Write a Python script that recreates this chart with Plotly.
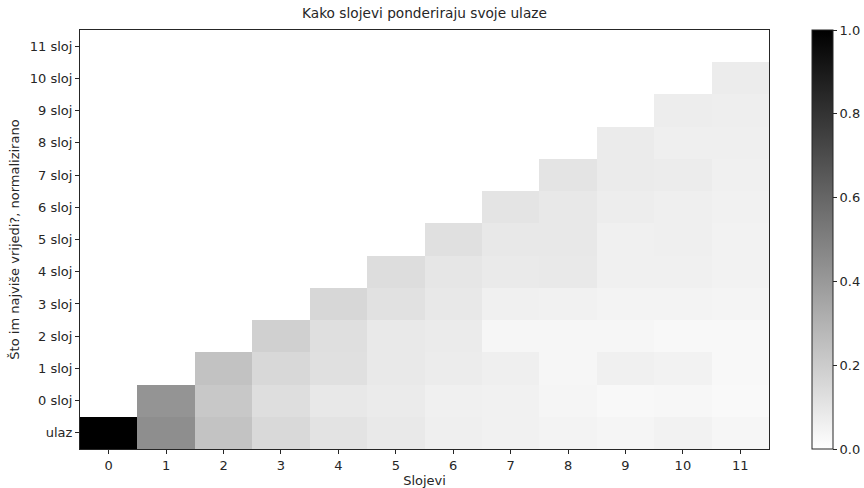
import plotly.graph_objects as go

# Layers (x axis) and the inputs they attend to (y axis)
layers = list(range(12))
inputs = ["ulaz"] + [f"{i} sloj" for i in range(12)]

# Normalized weight each layer gives to its inputs, listed per layer
# from "ulaz" upwards (layer k sees ulaz .. (k-1) sloj)
col_0 = [1.0]
col_1 = [0.443, 0.420]
col_2 = [0.235, 0.216, 0.239]
col_3 = [0.149, 0.129, 0.153, 0.184]
col_4 = [0.110, 0.090, 0.122, 0.125, 0.157]
col_5 = [0.086, 0.078, 0.086, 0.086, 0.118, 0.133]
col_6 = [0.063, 0.059, 0.075, 0.078, 0.090, 0.098, 0.122]
col_7 = [0.055, 0.055, 0.063, 0.035, 0.059, 0.082, 0.090, 0.106]
col_8 = [0.047, 0.039, 0.035, 0.035, 0.055, 0.086, 0.090, 0.090, 0.106]
col_9 = [0.039, 0.027, 0.059, 0.035, 0.047, 0.059, 0.059, 0.071, 0.078, 0.078]
col_10 = [0.051, 0.031, 0.051, 0.027, 0.047, 0.059, 0.063, 0.063, 0.075, 0.063, 0.071]
col_11 = [0.035, 0.024, 0.027, 0.027, 0.043, 0.051, 0.051, 0.055, 0.059, 0.063, 0.067, 0.075]

columns = [col_0, col_1, col_2, col_3, col_4, col_5, col_6,
           col_7, col_8, col_9, col_10, col_11]

# Build the matrix z[row][col]; cells above the diagonal stay empty
z = [[None for _ in layers] for _ in inputs]
for c, vals in enumerate(columns):
    for r, v in enumerate(vals):
        z[r][c] = v

font = "DejaVu Sans"
ink = "#262626"
fs = 13

fig = go.Figure(
    go.Heatmap(
        z=z,
        x=layers,
        y=list(range(len(inputs))),
        zmin=0,
        zmax=1,
        colorscale=[[0, "rgb(255,255,255)"], [1, "rgb(0,0,0)"]],
        hoverongaps=False,
        colorbar=dict(
            x=1.063,
            xanchor="left",
            xpad=0,
            y=0,
            yanchor="bottom",
            len=1,
            lenmode="fraction",
            ypad=0,
            thickness=21,
            outlinewidth=1,
            outlinecolor=ink,
            tickvals=[0, 0.2, 0.4, 0.6, 0.8, 1.0],
            ticktext=["0.0", "0.2", "0.4", "0.6", "0.8", "1.0"],
            ticks="outside",
            ticklen=4,
            tickcolor=ink,
            tickfont=dict(family=font, size=fs, color=ink),
        ),
    )
)

fig.update_layout(
    width=864,
    height=488,
    margin=dict(l=80, r=95, t=30, b=39, autoexpand=False),
    paper_bgcolor="white",
    plot_bgcolor="white",
    font=dict(family=font, size=fs, color=ink),
    title=dict(
        text="Kako slojevi ponderiraju svoje ulaze",
        x=(80 + 769) / 2 / 864,
        xanchor="center",
        y=1 - 13 / 488,
        yanchor="middle",
        font=dict(family=font, size=13.7, color=ink),
    ),
)

fig.update_xaxes(
    range=[-0.5, 11.5],
    tickmode="array",
    tickvals=layers,
    ticktext=[str(l) for l in layers],
    ticks="outside",
    ticklen=4,
    tickcolor=ink,
    tickfont=dict(family=font, size=fs, color=ink),
    showgrid=False,
    zeroline=False,
    showline=True,
    linecolor=ink,
    linewidth=1,
    mirror=True,
    automargin=False,
    title=dict(text="Slojevi", standoff=5, font=dict(family=font, size=fs, color=ink)),
)

fig.update_yaxes(
    range=[-0.5, 12.5],
    tickmode="array",
    tickvals=list(range(len(inputs))),
    ticktext=inputs,
    ticks="outside",
    ticklen=4,
    tickcolor=ink,
    tickfont=dict(family=font, size=fs, color=ink),
    showgrid=False,
    zeroline=False,
    showline=True,
    linecolor=ink,
    linewidth=1,
    mirror=True,
    automargin=False,
    title=dict(
        text="Što im najviše vrijedi?, normalizirano",
        standoff=7,
        font=dict(family=font, size=fs, color=ink),
    ),
)

fig.write_html("out.html")
